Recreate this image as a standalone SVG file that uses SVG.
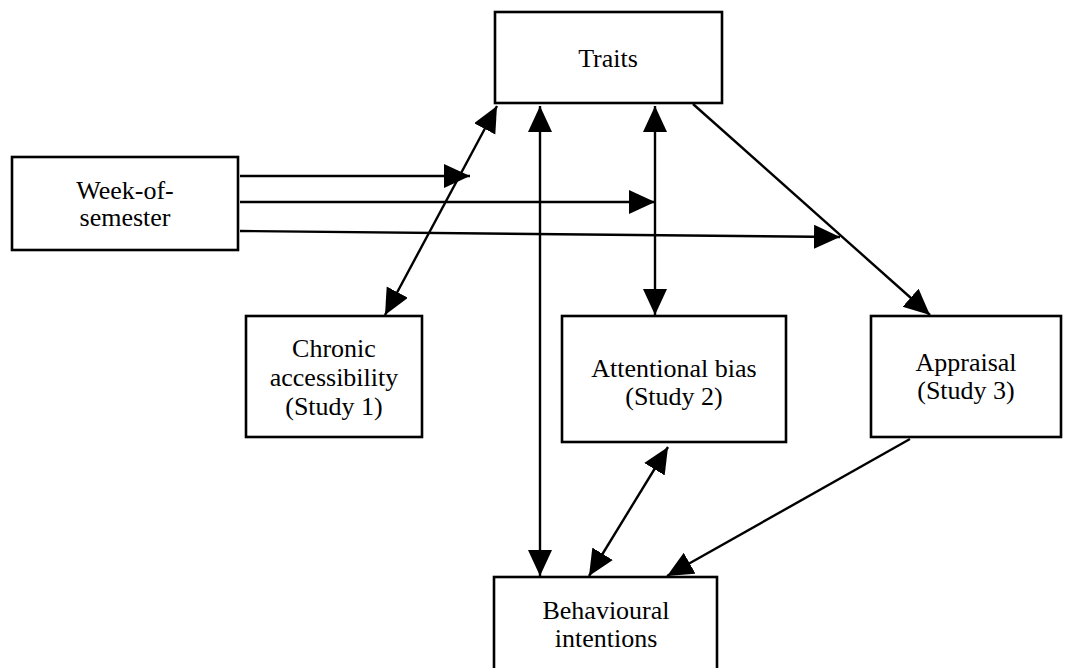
<svg xmlns="http://www.w3.org/2000/svg" width="1089" height="668" viewBox="0 0 1089 668">
<defs>
<style>
.box{fill:#fff;stroke:#000;stroke-width:2.6}
.lbl{font-family:"Liberation Serif","Times New Roman",serif;font-size:26px;fill:#000;text-anchor:middle}
.edge{stroke:#000;stroke-width:2.4;fill:none}
</style>
<marker id="ah" markerUnits="userSpaceOnUse" markerWidth="28" markerHeight="26" refX="26" refY="12" orient="auto-start-reverse" viewBox="0 0 28 26">
<path d="M0,0 L26,12 L0,24 Z" fill="#000"/>
</marker>
</defs>
<rect width="1089" height="668" fill="#fff"/>
<g id="connectors">
<line class="edge" x1="240" y1="176" x2="470" y2="176" marker-end="url(#ah)"/>
<line class="edge" x1="240" y1="202" x2="655" y2="202" marker-end="url(#ah)"/>
<line class="edge" x1="240" y1="231" x2="840" y2="237" marker-end="url(#ah)"/>
<line class="edge" x1="385" y1="315" x2="497" y2="106" marker-start="url(#ah)" marker-end="url(#ah)"/>
<line class="edge" x1="540" y1="106" x2="540" y2="576" marker-start="url(#ah)" marker-end="url(#ah)"/>
<line class="edge" x1="655" y1="106" x2="655" y2="315" marker-start="url(#ah)" marker-end="url(#ah)"/>
<line class="edge" x1="693" y1="104" x2="930" y2="315" marker-end="url(#ah)"/>
<line class="edge" x1="668" y1="447" x2="589" y2="576" marker-start="url(#ah)" marker-end="url(#ah)"/>
<line class="edge" x1="910" y1="439" x2="667" y2="576" marker-end="url(#ah)"/>
</g>
<g id="traits">
<rect class="box" x="495" y="12" width="227" height="91"/>
<text class="lbl" x="608" y="67">Traits</text>
</g>
<g id="week">
<rect class="box" x="12" y="157" width="226" height="93"/>
<text class="lbl" x="125" y="199">Week-of-</text>
<text class="lbl" x="125" y="226">semester</text>
</g>
<g id="chronic">
<rect class="box" x="246" y="316" width="176" height="121"/>
<text class="lbl" x="334" y="357">Chronic</text>
<text class="lbl" x="334" y="386">accessibility</text>
<text class="lbl" x="334" y="415">(Study 1)</text>
</g>
<g id="attentional">
<rect class="box" x="562" y="316" width="224" height="126"/>
<text class="lbl" x="674" y="377">Attentional bias</text>
<text class="lbl" x="674" y="405">(Study 2)</text>
</g>
<g id="appraisal">
<rect class="box" x="871" y="316" width="190" height="121"/>
<text class="lbl" x="966" y="371">Appraisal</text>
<text class="lbl" x="966" y="399">(Study 3)</text>
</g>
<g id="behavioural">
<rect class="box" x="494" y="577" width="223" height="100"/>
<text class="lbl" x="606" y="619">Behavioural</text>
<text class="lbl" x="606" y="647">intentions</text>
</g>
</svg>
